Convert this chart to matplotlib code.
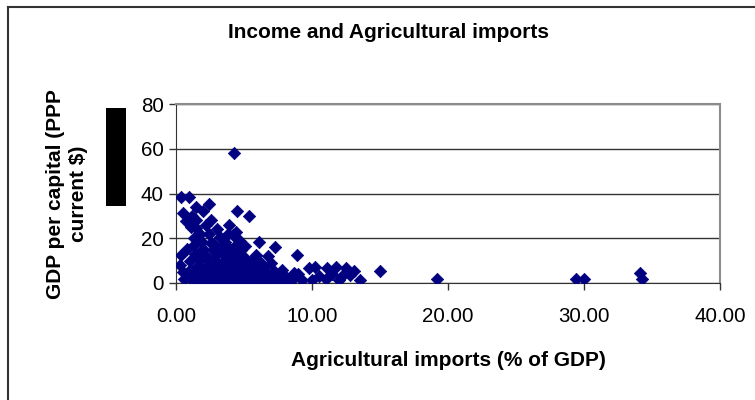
import matplotlib
matplotlib.use('Agg')
import matplotlib.pyplot as plt
from matplotlib.patches import Rectangle
from matplotlib.lines import Line2D

plt.rcParams['font.family'] = ['Liberation Sans', 'DejaVu Sans']

# agricultural imports (% of GDP) vs GDP per capita (PPP, thousand $)
imports = [4.3, 0.4, 0.95, 2.4, 1.5, 4.5, 5.4, 0.5, 0.7, 3.9, 1.5, 4.4, 2.4, 3.2, 4.2, 1.3,
           6.1, 5.1, 7.3, 8.9, 0.4, 5.9, 6.8, 9.3, 9.8, 10.2, 11.1, 11.8, 12.5, 12.2, 13.1,
           13.5, 15.0, 19.2, 29.4, 30.0, 34.1, 34.3,
           8.0, 8.5, 9.0, 10.5, 11.0, 11.5, 12.0, 12.8, 10.0, 7.8,
           0.3, 0.5, 0.6, 0.8, 1.0, 1.1, 1.2, 1.3, 1.0, 0.9, 1.4, 1.5,
           1.2, 1.7, 2.1, 2.5, 2.9, 3.3, 3.7, 4.1, 4.6, 5.0, 5.5, 6.0, 6.4, 6.9, 7.4, 7.9,
           1.5, 2.0, 2.6, 3.1, 3.5, 4.0, 4.5, 5.2, 5.8, 6.3, 7.0, 7.6,
           1.3, 1.9, 2.3, 2.8, 3.4, 3.9, 4.4, 4.9, 5.4, 6.0, 6.6, 7.2,
           1.6, 2.2, 2.7, 3.2, 3.6, 4.2, 4.7, 5.3, 5.7, 6.5,
           1.8, 2.4, 2.9, 3.5, 4.1, 4.6, 5.1, 5.6, 6.2,
           1.6, 2.2, 3.0, 3.8, 4.4, 4.9,
           2.0, 2.7, 3.3, 4.0, 4.8,
           1.9, 2.6, 3.6, 4.5,
           2.0, 2.6, 3.0, 1.8, 2.8, 3.4, 4.6, 2.2, 3.8, 5.0,
           8.3, 8.7, 7.0, 6.2]
gdp = [58, 38.5, 38.5, 35.5, 34, 32, 30, 31.5, 27.5, 26, 24.5, 23, 22, 20.5, 21.5, 20,
       18.5, 16.5, 16, 12.5, 12.5, 12.5, 12, 1.3, 6.5, 7, 6.5, 7, 6.5, 3, 5.5,
       1.5, 5.3, 1.8, 1.8, 1.8, 4.5, 1.8,
       3, 1.5, 4, 3, 2, 4, 1.5, 3.5, 1.5, 6,
       8, 5, 2, 15, 10, 25, 30, 17, 6, 3, 13, 28,
       1.2, 0.9, 1.4, 1.0, 1.3, 0.8, 1.5, 1.1, 0.9, 1.4, 1.0, 1.2, 1.6, 0.9, 1.3, 1.1,
       3.2, 2.8, 3.5, 2.9, 3.3, 2.7, 3.4, 3.0, 2.6, 3.3, 2.9, 3.1,
       5.2, 4.8, 5.5, 5.0, 4.7, 5.3, 5.1, 4.9, 5.6, 4.6, 5.0, 5.4,
       7.6, 7.2, 7.9, 7.3, 7.7, 7.4, 7.8, 7.1, 7.5, 7.3,
       10.2, 9.8, 10.5, 9.9, 10.3, 9.7, 10.1, 10.4, 9.6,
       12.6, 12.2, 12.9, 12.4, 12.7, 12.1,
       15.3, 14.8, 15.5, 15.0, 14.6,
       18.2, 17.8, 18.4, 17.6,
       32, 28, 24, 22, 17.5, 13.5, 19, 26, 22, 8.5,
       1.2, 4.5, 9.0, 2.2]

x_ticks = [0, 10, 20, 30, 40]
y_ticks = [0, 20, 40, 60, 80]

fig = plt.figure(figsize=(7.55, 4.0), dpi=100)
ax = fig.add_axes([176/755, 1-283/400, (720-176)/755, (283-104)/400])

ax.scatter(imports, gdp, marker='D', s=40, color='#000080', edgecolors='#000080',
           linewidths=0.5, zorder=3)

ax.set_xlim(0, 40)
ax.set_ylim(0, 80)
ax.set_xticks(x_ticks)
ax.set_xticklabels(['%.2f' % v for v in x_ticks])
ax.set_yticks(y_ticks)
ax.tick_params(axis='both', direction='out', length=5, width=1, color='#333333',
               labelsize=14.8)
ax.tick_params(axis='x', pad=12)
ax.tick_params(axis='y', pad=4)

ax.set_axisbelow(True)
ax.yaxis.grid(True, color='#333333', linewidth=1)
ax.spines['top'].set_color('#8c8c8c')
ax.spines['right'].set_color('#8c8c8c')
ax.spines['top'].set_linewidth(1.5)
ax.spines['right'].set_linewidth(1.5)
ax.spines['left'].set_color('#333333')
ax.spines['bottom'].set_color('#333333')

fig.text(388/755, 1-33/400, 'Income and Agricultural imports', ha='center', va='center',
         fontsize=15, fontweight='bold')
fig.text(448/755, 1-360/400, 'Agricultural imports (% of GDP)', ha='center', va='center',
         fontsize=15, fontweight='bold')
fig.text(67/755, 1-194/400, 'GDP per capital (PPP\ncurrent $)', ha='center', va='center',
         rotation=90, fontsize=15, fontweight='bold', linespacing=1.3)

# black box and outer frame (left and top edges only are in view)
fig.patches.append(Rectangle((106/755, 1-206/400), 20/755, 98/400, transform=fig.transFigure,
                             facecolor='black', edgecolor='none'))
fig.lines.append(Line2D([8/755, 8/755], [0, 1-7/400], transform=fig.transFigure,
                        color='#333333', linewidth=1.5))
fig.lines.append(Line2D([8/755, 1], [1-7/400, 1-7/400], transform=fig.transFigure,
                        color='#333333', linewidth=1.5))

plt.savefig('out.png', dpi=100)
